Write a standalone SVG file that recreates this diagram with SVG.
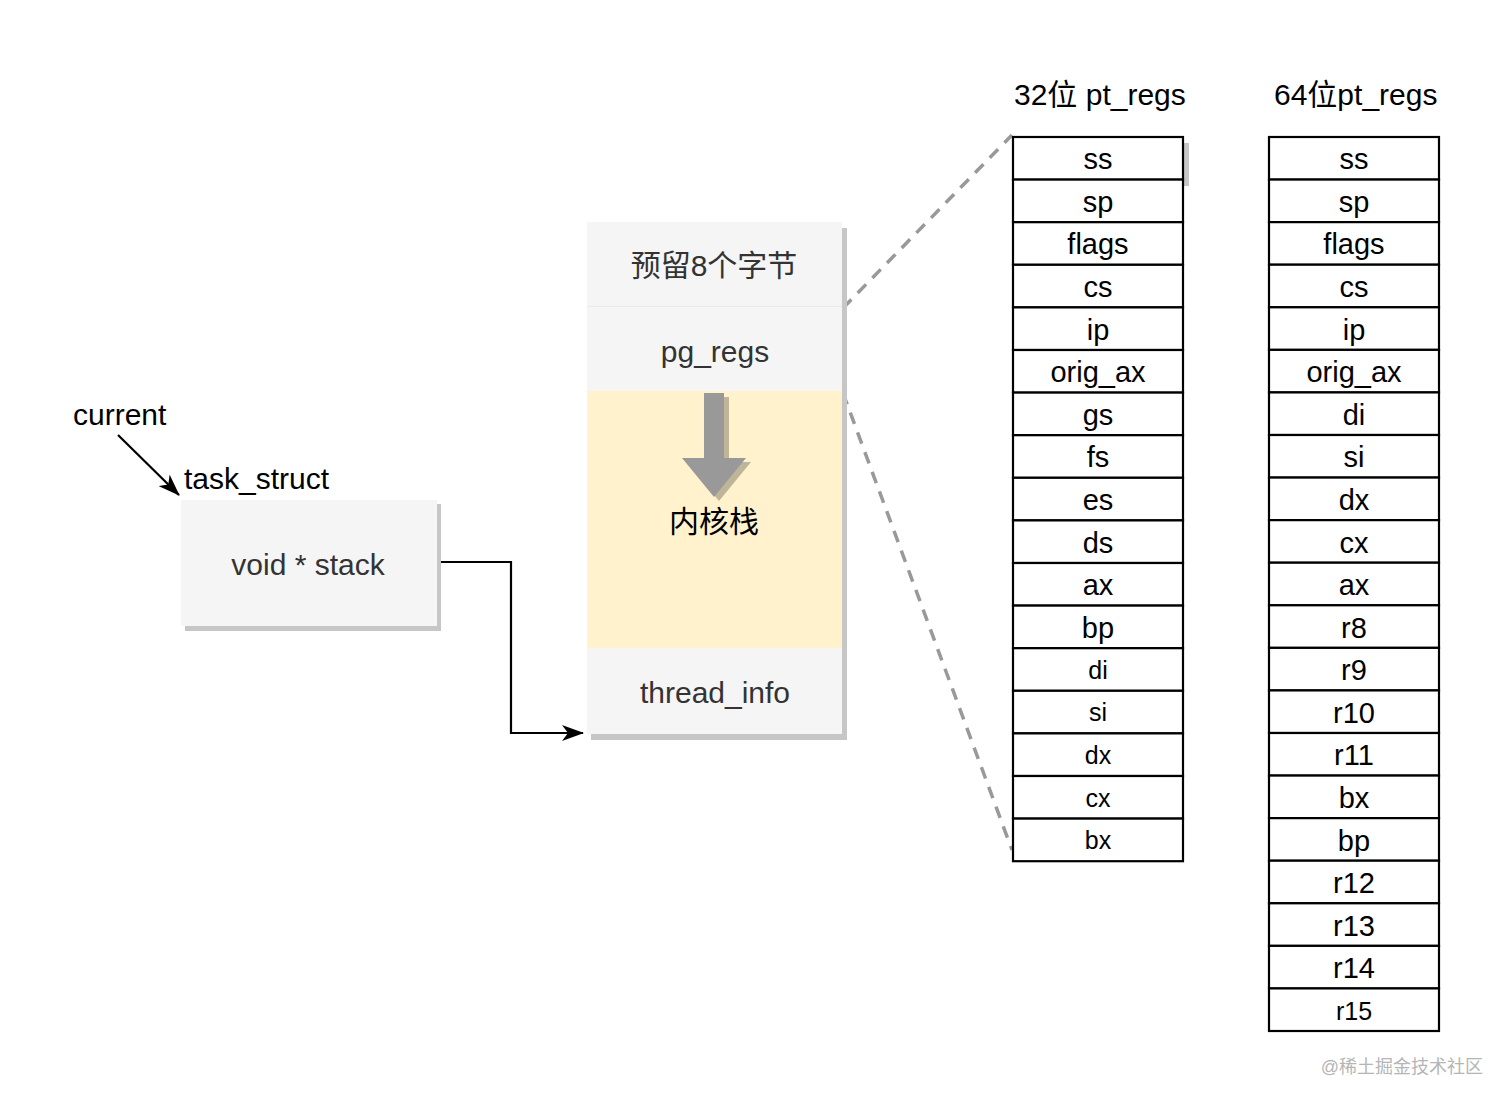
<svg xmlns="http://www.w3.org/2000/svg" width="1512" height="1104" viewBox="0 0 1512 1104">
<style>
text{font-family:"Liberation Sans","Noto Sans CJK SC",sans-serif;}
.lbl{font-size:30px;fill:#333;text-anchor:middle;}
.blk{font-size:30px;fill:#000;}
.reg{font-size:29px;fill:#000;text-anchor:middle;}
.sm{font-size:25px;fill:#000;text-anchor:middle;}
.cell{fill:#fff;stroke:#000;stroke-width:2.2;}
.shadow{fill:#c6c6c6;}
.dash{stroke:#999;stroke-width:3.5;stroke-dasharray:12 9;fill:none;}
.conn{stroke:#000;stroke-width:2.2;fill:none;}
</style>
<defs>
<marker id="arr" viewBox="0 0 22 16" refX="21" refY="8" markerWidth="22" markerHeight="16" markerUnits="userSpaceOnUse" orient="auto">
<path d="M0,0 L22,8 L0,16 L6,8 z" fill="#000"/>
</marker>
</defs>
<rect width="1512" height="1104" fill="#fff"/>

<g id="connectors">
<line class="conn" x1="118" y1="435" x2="179" y2="495" marker-end="url(#arr)"/>
<polyline class="conn" points="437,562 511,562 511,733 583,733" marker-end="url(#arr)"/>
<line class="dash" x1="843" y1="308" x2="1012" y2="135"/>
<line class="dash" x1="843" y1="393" x2="1012" y2="850"/>
</g>

<g id="current-label"><text class="blk" x="73" y="425">current</text></g>
<g id="task-struct-label"><text class="blk" x="184" y="489">task_struct</text></g>

<g id="task-struct">
<rect class="shadow" x="185" y="504" width="256" height="127"/>
<rect x="181" y="500" width="256" height="126" fill="#f5f5f5"/>
<text class="lbl" x="308" y="575">void * stack</text>
</g>

<g id="kernel-stack">
<rect class="shadow" x="591" y="228" width="256" height="512"/>
<rect x="587" y="222" width="255" height="85" fill="#f5f5f5"/>
<rect x="587" y="307" width="255" height="85" fill="#f5f5f5"/>
<line x1="587" y1="306.5" x2="842" y2="306.5" stroke="#ebebeb" stroke-width="1"/>
<rect x="587" y="391" width="255" height="257" fill="#fff2cc"/>
<rect x="587" y="648" width="255" height="86" fill="#f5f5f5"/>
<text class="lbl" x="714" y="276">预留8个字节</text>
<text class="lbl" x="715" y="362">pg_regs</text>
<polygon points="709,397 729,397 729,462 751,462 719,501 687,462 709,462" fill="#bfb599"/>
<polygon points="704,393 724,393 724,458 746,458 714,497 682,458 704,458" fill="#999"/>
<text class="blk" x="714" y="532" text-anchor="middle">内核栈</text>
<text class="lbl" x="715" y="703">thread_info</text>
</g>

<g id="title-32"><text class="blk" x="1014" y="105">32位 pt_regs</text></g>
<g id="title-64"><text class="blk" x="1274" y="105">64位pt_regs</text></g>

<g id="regs32">
<rect x="1184" y="143" width="5" height="43" fill="#c6c6c6"/>
<rect class="cell" x="1013" y="137" width="170" height="42.6"/>
<rect class="cell" x="1013" y="179.6" width="170" height="42.6"/>
<rect class="cell" x="1013" y="222.2" width="170" height="42.6"/>
<rect class="cell" x="1013" y="264.8" width="170" height="42.6"/>
<rect class="cell" x="1013" y="307.4" width="170" height="42.6"/>
<rect class="cell" x="1013" y="350" width="170" height="42.6"/>
<rect class="cell" x="1013" y="392.6" width="170" height="42.6"/>
<rect class="cell" x="1013" y="435.2" width="170" height="42.6"/>
<rect class="cell" x="1013" y="477.8" width="170" height="42.6"/>
<rect class="cell" x="1013" y="520.4" width="170" height="42.6"/>
<rect class="cell" x="1013" y="563" width="170" height="42.6"/>
<rect class="cell" x="1013" y="605.6" width="170" height="42.6"/>
<rect class="cell" x="1013" y="648.2" width="170" height="42.6"/>
<rect class="cell" x="1013" y="690.8" width="170" height="42.6"/>
<rect class="cell" x="1013" y="733.4" width="170" height="42.6"/>
<rect class="cell" x="1013" y="776" width="170" height="42.6"/>
<rect class="cell" x="1013" y="818.6" width="170" height="42.6"/>
<text class="reg" x="1098" y="169">ss</text>
<text class="reg" x="1098" y="212">sp</text>
<text class="reg" x="1098" y="254">flags</text>
<text class="reg" x="1098" y="297">cs</text>
<text class="reg" x="1098" y="340">ip</text>
<text class="reg" x="1098" y="382">orig_ax</text>
<text class="reg" x="1098" y="425">gs</text>
<text class="reg" x="1098" y="467">fs</text>
<text class="reg" x="1098" y="510">es</text>
<text class="reg" x="1098" y="553">ds</text>
<text class="reg" x="1098" y="595">ax</text>
<text class="reg" x="1098" y="638">bp</text>
<text class="sm" x="1098" y="679">di</text>
<text class="sm" x="1098" y="721">si</text>
<text class="sm" x="1098" y="764">dx</text>
<text class="sm" x="1098" y="807">cx</text>
<text class="sm" x="1098" y="849">bx</text>
</g>

<g id="regs64">
<rect class="cell" x="1269" y="137" width="170" height="42.57"/>
<rect class="cell" x="1269" y="179.57" width="170" height="42.57"/>
<rect class="cell" x="1269" y="222.14" width="170" height="42.57"/>
<rect class="cell" x="1269" y="264.71" width="170" height="42.57"/>
<rect class="cell" x="1269" y="307.29" width="170" height="42.57"/>
<rect class="cell" x="1269" y="349.86" width="170" height="42.57"/>
<rect class="cell" x="1269" y="392.43" width="170" height="42.57"/>
<rect class="cell" x="1269" y="435" width="170" height="42.57"/>
<rect class="cell" x="1269" y="477.57" width="170" height="42.57"/>
<rect class="cell" x="1269" y="520.14" width="170" height="42.57"/>
<rect class="cell" x="1269" y="562.71" width="170" height="42.57"/>
<rect class="cell" x="1269" y="605.29" width="170" height="42.57"/>
<rect class="cell" x="1269" y="647.86" width="170" height="42.57"/>
<rect class="cell" x="1269" y="690.43" width="170" height="42.57"/>
<rect class="cell" x="1269" y="733" width="170" height="42.57"/>
<rect class="cell" x="1269" y="775.57" width="170" height="42.57"/>
<rect class="cell" x="1269" y="818.14" width="170" height="42.57"/>
<rect class="cell" x="1269" y="860.71" width="170" height="42.57"/>
<rect class="cell" x="1269" y="903.29" width="170" height="42.57"/>
<rect class="cell" x="1269" y="945.86" width="170" height="42.57"/>
<rect class="cell" x="1269" y="988.43" width="170" height="42.57"/>
<text class="reg" x="1354" y="169">ss</text>
<text class="reg" x="1354" y="212">sp</text>
<text class="reg" x="1354" y="254">flags</text>
<text class="reg" x="1354" y="297">cs</text>
<text class="reg" x="1354" y="340">ip</text>
<text class="reg" x="1354" y="382">orig_ax</text>
<text class="reg" x="1354" y="425">di</text>
<text class="reg" x="1354" y="467">si</text>
<text class="reg" x="1354" y="510">dx</text>
<text class="reg" x="1354" y="553">cx</text>
<text class="reg" x="1354" y="595">ax</text>
<text class="reg" x="1354" y="638">r8</text>
<text class="reg" x="1354" y="680">r9</text>
<text class="reg" x="1354" y="723">r10</text>
<text class="reg" x="1354" y="765">r11</text>
<text class="reg" x="1354" y="808">bx</text>
<text class="reg" x="1354" y="851">bp</text>
<text class="reg" x="1354" y="893">r12</text>
<text class="reg" x="1354" y="936">r13</text>
<text class="reg" x="1354" y="978">r14</text>
<text class="sm" x="1354" y="1020">r15</text>
</g>

<g id="watermark"><text x="1483" y="1073" font-size="18" fill="#b5b5b5" text-anchor="end">@稀土掘金技术社区</text></g>
</svg>
